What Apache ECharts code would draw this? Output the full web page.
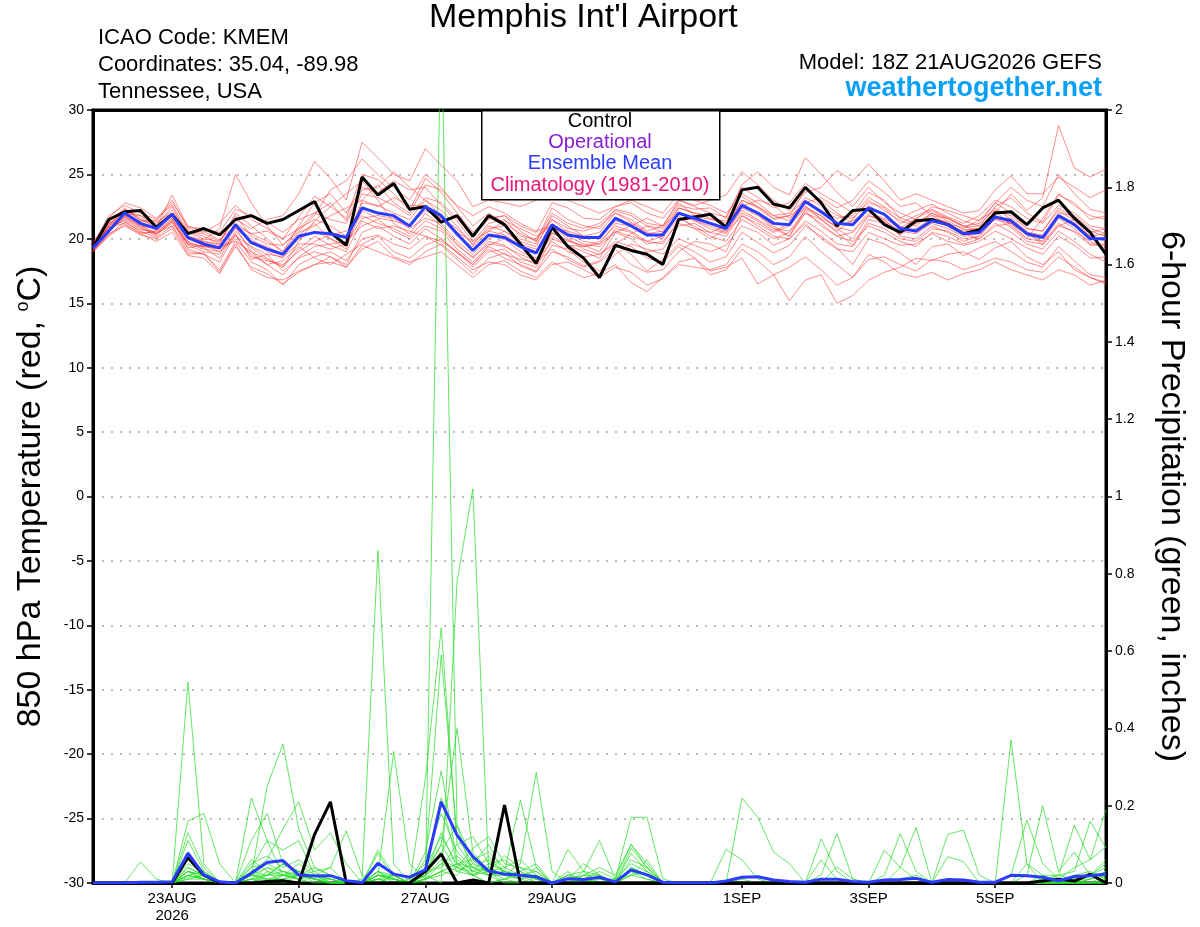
<!DOCTYPE html>
<html>
<head>
<meta charset="utf-8">
<title>Memphis Int'l Airport - GEFS</title>
<script src="https://cdn.jsdelivr.net/npm/echarts@6.0.0/dist/echarts.min.js"></script>
<style>
  html, body { margin: 0; padding: 0; background: #fff; }
  #main { width: 1200px; height: 927px; }
</style>
</head>
<body>
<div id="main"></div>
<script>
// 6-hourly steps from 18Z 21AUG2026 to 18Z 6SEP2026 (65 steps)
var times = [];
var t0 = Date.UTC(2026, 7, 21, 18);
var MON = ['JAN','FEB','MAR','APR','MAY','JUN','JUL','AUG','SEP','OCT','NOV','DEC'];
for (var k = 0; k < 65; k++) {
  var d = new Date(t0 + k * 6 * 3600 * 1000);
  times.push(('0' + d.getUTCHours()).slice(-2) + 'Z' + d.getUTCDate() + MON[d.getUTCMonth()]);
}
var tickIndex = [5, 13, 21, 29, 41, 49, 57];
var tickText = ['23AUG\n2026', '25AUG', '27AUG', '29AUG', '1SEP', '3SEP', '5SEP'];

// 850 hPa temperature, control run (black)
var controlTemp = [19.3,21.5,22.1,22.2,20.9,21.9,20.4,20.8,20.3,21.5,
  21.8,21.2,21.5,22.2,22.9,20.5,19.5,24.8,23.4,24.3,
  22.3,22.5,21.3,21.8,20.2,21.8,21.1,19.6,18.1,20.9,
  19.4,18.5,17.0,19.5,19.1,18.8,18.0,21.5,21.7,21.9,
  20.9,23.8,24.0,22.7,22.4,24.0,22.8,21.0,22.2,22.3,
  21.1,20.5,21.4,21.5,21.1,20.4,20.7,22.0,22.1,21.1,
  22.4,23.0,21.6,20.5,18.8];
// ensemble mean (blue)
var meanTemp = [19.3,20.6,22.0,21.2,20.8,21.9,20.1,19.6,19.3,21.1,
  19.7,19.2,18.8,20.2,20.5,20.4,20.1,22.4,22.0,21.8,
  21.0,22.5,21.8,20.4,19.1,20.3,20.1,19.4,18.9,21.1,
  20.3,20.1,20.1,21.6,21.0,20.3,20.3,22.0,21.6,21.2,
  20.8,22.6,22.0,21.2,21.1,22.9,22.1,21.2,21.1,22.4,
  21.9,20.8,20.6,21.4,21.1,20.4,20.5,21.7,21.4,20.4,
  20.1,21.8,21.1,20.0,20.0];
// ensemble members (red)
var tempMembers = [
  [19.6,21.8,22.6,22.0,21.5,23.0,20.8,20.5,21.2,22.6, 21.5,20.8,20.0,21.7,23.3,22.5,21.6,25.0,24.6,23.5,
   22.2,24.7,23.6,22.0,20.5,21.6,21.8,20.6,19.8,22.4, 21.5,21.0,20.8,22.3,22.0,21.2,21.0,23.0,22.5,22.0,
   21.7,24.0,23.2,22.4,22.8,24.3,23.5,22.8,22.0,23.6, 23.0,21.6,22.2,22.7,22.0,21.4,21.0,22.5,23.2,22.0,
   21.3,23.4,22.8,21.5,21.8],
  [19.0,20.3,21.3,20.6,20.1,21.0,19.0,18.8,17.6,19.8, 18.2,17.6,16.4,18.0,18.6,19.0,18.3,20.0,20.3,19.6,
   19.2,20.2,19.5,18.4,17.3,18.5,18.9,17.9,17.4,19.0, 18.6,17.9,18.3,19.6,18.8,17.5,18.4,19.6,19.0,18.2,
   18.6,20.5,19.7,18.9,19.5,21.0,20.2,19.3,18.0,20.0, 19.6,18.9,18.0,19.4,19.6,18.7,19.3,19.8,19.0,18.2,
   17.8,19.4,18.3,17.2,17.0],
  [19.4,21.0,22.3,21.6,21.0,22.5,20.2,19.9,20.8,25.0, 22.8,21.0,19.5,20.8,21.5,21.0,20.2,22.8,22.6,22.0,
   21.5,23.0,22.2,21.0,19.5,21.0,20.6,19.8,19.4,21.8, 21.0,20.2,20.5,22.0,21.3,20.5,20.0,22.4,22.0,21.6,
   21.0,22.8,21.9,20.8,20.2,22.0,21.5,20.6,21.5,23.0, 22.2,21.4,21.0,22.0,21.4,20.7,20.8,22.2,21.8,20.8,
   20.6,22.4,21.6,20.5,20.8],
  [19.2,20.8,21.5,20.7,20.6,21.6,19.8,19.3,18.5,20.6, 19.3,18.5,17.8,19.8,21.4,22.5,23.5,24.5,23.0,21.2,
   20.4,22.0,21.0,19.6,18.5,19.8,19.5,18.6,18.0,20.5, 19.8,19.5,19.0,20.8,20.5,19.6,19.8,21.2,20.8,20.5,
   20.2,22.0,21.4,20.6,21.2,22.5,21.8,20.8,20.0,21.8, 21.5,20.2,20.0,21.0,20.5,19.8,20.2,21.6,20.9,19.8,
   19.6,21.2,20.5,19.5,19.5],
  [19.8,21.2,22.0,21.8,21.3,22.0,20.5,20.0,19.8,21.5, 20.8,21.5,21.8,23.5,26.0,24.7,23.0,27.5,26.3,25.0,
   24.5,27.0,25.7,24.5,22.5,23.0,22.8,22.5,23.0,23.8, 23.0,22.5,22.0,22.5,23.0,22.5,22.0,23.5,23.0,22.6,
   22.0,23.3,22.5,21.8,21.4,23.2,22.6,21.8,21.6,22.8, 22.4,21.2,21.8,22.3,21.7,21.2,21.8,23.0,22.5,21.6,
   21.2,22.6,22.0,21.0,20.8],
  [19.1,20.5,21.8,21.0,20.3,21.4,19.5,19.0,18.8,20.9, 19.0,18.0,17.2,18.6,19.4,19.6,19.8,21.0,21.5,20.6,
   20.0,21.0,20.6,19.2,18.2,19.5,20.0,19.0,18.5,20.2, 19.5,19.0,18.5,20.5,20.0,19.0,19.2,21.0,21.2,20.5,
   21.0,23.0,22.5,21.6,21.8,22.6,21.5,20.5,19.5,21.5, 21.2,20.5,20.8,21.6,21.3,20.4,20.0,21.0,21.2,20.3,
   19.8,21.0,21.5,20.6,20.2],
  [19.3,20.6,21.6,20.8,20.4,21.2,19.6,19.2,19.0,20.3, 18.6,18.3,18.0,19.0,19.8,20.3,20.6,21.8,21.2,20.8,
   20.2,21.4,20.8,19.5,18.6,19.6,19.4,18.8,18.3,19.8, 19.0,18.6,18.8,19.8,19.4,18.5,18.2,19.4,18.5,17.5,
   17.8,18.5,16.5,17.2,15.2,16.8,17.2,15.0,15.6,16.8, 17.4,17.8,18.5,18.3,18.8,19.0,18.4,19.3,19.8,18.6,
   18.0,19.0,17.6,17.0,16.5],
  [19.5,21.3,22.4,21.4,21.2,22.2,20.6,20.4,19.8,21.8, 20.2,19.6,19.5,20.6,21.8,23.8,24.5,26.2,25.0,24.0,
   23.0,25.0,24.0,22.5,21.0,22.0,21.2,20.4,19.8,22.0, 21.2,20.8,21.2,22.2,21.8,21.0,20.8,22.6,22.3,22.4,
   21.6,24.2,25.2,24.0,23.4,26.3,25.0,23.6,22.5,24.0, 22.8,22.0,21.5,22.5,22.2,21.8,21.4,22.8,24.0,23.0,
   22.5,25.0,23.5,22.3,22.0],
  [19.2,21.0,21.9,21.2,20.8,22.0,20.2,19.8,19.5,20.8, 19.8,19.4,18.8,20.0,20.6,20.0,19.5,22.2,21.6,21.4,
   21.0,22.2,21.6,20.2,19.4,20.6,20.3,19.5,19.0,20.8, 20.6,20.2,20.0,21.4,21.2,20.4,20.6,22.4,22.0,21.8,
   21.2,23.0,22.4,21.5,21.8,23.8,23.0,22.0,21.2,22.6, 21.8,21.0,20.5,21.4,21.0,20.6,20.8,22.0,23.5,22.2,
   23.2,28.8,25.5,24.8,25.4],
  [19.0,20.4,21.0,20.3,20.0,20.8,18.8,18.9,17.4,19.6, 17.6,17.0,16.8,17.5,18.0,18.2,17.8,19.2,19.8,18.6,
   18.2,18.6,19.0,18.0,17.0,18.0,18.3,17.5,17.0,18.2, 17.6,17.0,17.3,18.0,16.6,15.9,17.0,18.2,18.5,17.2,
   17.6,19.2,18.3,17.2,17.8,18.6,17.6,16.4,17.0,18.8, 18.2,17.3,17.0,17.4,16.8,17.3,17.6,18.2,17.6,17.2,
   16.8,17.6,17.2,16.4,16.8],
  [19.4,21.4,22.2,21.5,20.9,23.4,20.9,20.8,20.5,22.3, 21.8,21.3,20.5,21.5,22.0,21.5,21.2,23.5,23.2,22.6,
   21.8,23.2,22.8,21.6,20.2,21.5,21.8,21.0,20.5,22.8, 22.4,21.6,21.5,22.5,22.8,22.0,21.6,23.0,22.6,23.0,
   23.4,25.2,24.2,23.0,22.2,23.6,24.0,25.3,24.5,25.8, 24.5,23.0,23.5,23.0,22.5,22.0,22.2,23.8,24.9,23.5,
   23.5,24.8,24.0,23.2,23.8],
  [19.3,20.9,21.4,20.5,20.5,21.0,19.3,19.5,19.0,20.0, 18.8,18.0,18.3,19.4,18.5,18.0,18.8,19.6,20.2,19.0,
   18.5,19.5,20.0,18.9,18.0,19.2,18.5,18.0,17.5,19.5, 19.2,18.2,17.5,18.8,19.6,19.2,18.8,20.0,19.5,19.0,
   19.5,21.0,20.5,19.5,20.0,21.2,20.0,19.2,19.0,20.5, 20.0,19.5,19.6,20.4,19.8,19.5,19.8,20.6,20.0,19.3,
   18.8,20.2,19.5,18.5,18.6],
  [19.6,21.6,22.8,22.4,21.6,22.6,20.6,20.2,19.6,22.0, 21.0,20.0,19.0,21.0,22.8,23.5,22.0,24.0,23.6,24.5,
   23.8,24.0,22.6,21.4,19.8,21.2,21.5,20.2,20.0,21.5, 20.5,19.8,19.6,20.6,20.2,19.8,19.6,21.5,21.8,21.2,
   20.6,22.2,21.5,20.8,20.6,22.2,21.0,20.2,20.5,21.8, 21.3,20.3,21.2,21.8,21.6,20.9,21.0,22.4,21.5,20.5,
   20.3,21.8,21.2,20.2,20.4],
  [19.1,20.7,21.7,20.9,20.2,21.5,19.2,18.8,18.2,20.4, 18.4,18.8,17.5,18.5,19.0,18.6,18.0,20.5,21.0,20.2,
   19.6,20.8,20.0,19.0,17.8,19.0,19.2,18.2,17.8,20.0, 19.5,19.4,19.8,21.0,20.6,19.8,20.2,21.6,21.0,20.2,
   19.8,21.5,20.8,20.0,20.5,22.0,21.2,20.2,19.8,21.0, 20.5,19.8,19.4,20.5,20.2,19.6,20.0,21.2,20.5,19.6,
   19.2,20.6,19.8,18.8,18.2],
  [19.5,21.1,22.1,21.8,21.0,21.8,20.0,19.5,19.2,21.2, 20.4,19.8,19.0,20.5,21.0,21.8,22.4,23.0,22.5,23.2,
   22.6,22.6,21.6,20.8,19.6,20.8,21.0,20.0,19.6,21.5, 20.8,20.6,21.0,22.0,21.5,20.6,21.0,22.8,21.8,21.5,
   21.4,23.5,22.8,21.8,22.0,23.0,22.2,21.6,21.8,23.2, 22.5,21.6,21.2,22.0,21.6,21.0,21.2,22.8,22.0,20.8,
   20.6,22.2,21.4,20.2,19.8],
  [19.2,20.9,21.2,20.4,20.6,21.3,19.7,19.4,19.4,19.8, 19.0,18.4,17.8,19.2,20.2,19.5,19.0,21.4,20.8,21.0,
   20.6,20.2,19.8,19.0,18.0,19.4,18.8,18.4,18.2,19.2, 18.4,17.8,18.2,19.2,18.0,17.4,17.6,19.0,19.8,19.6,
   19.0,21.8,21.0,20.2,20.0,21.4,20.6,19.6,19.4,21.2, 20.8,20.0,19.8,20.8,20.6,20.0,20.2,21.6,21.6,20.6,
   19.5,21.0,20.6,19.8,19.2],
  [19.4,21.2,21.8,21.4,21.4,22.8,21.0,20.6,19.9,21.0, 20.0,19.0,18.5,20.3,21.2,20.0,19.2,23.0,24.2,22.8,
   22.0,24.2,23.8,22.6,21.8,22.5,22.0,21.2,20.6,21.0, 20.0,19.2,18.8,19.6,20.4,21.0,20.5,21.8,20.8,20.0,
   20.8,22.5,23.0,22.6,21.6,22.8,23.2,22.4,23.0,24.5, 23.6,22.5,22.8,21.8,21.2,20.8,21.5,22.2,21.0,20.0,
   21.6,23.5,22.6,21.8,21.5],
  [19.0,20.2,21.1,20.4,19.8,20.5,18.7,18.5,17.3,19.4, 17.8,17.3,16.5,17.4,18.0,18.6,17.8,19.5,19.0,18.5,
   18.0,19.0,19.6,18.6,17.6,18.2,18.0,17.2,16.8,18.0, 18.2,17.6,17.0,17.8,17.4,16.4,16.9,18.0,17.8,17.6,
   18.0,19.6,19.0,18.0,18.6,20.2,19.0,18.0,17.0,18.4, 18.6,18.0,17.5,18.4,18.2,17.6,18.0,18.5,18.2,17.6,
   17.4,18.6,17.8,17.0,16.6],
  [19.3,21.0,21.7,21.0,20.8,21.8,20.0,19.8,19.6,21.0, 20.4,20.6,20.0,20.8,22.0,22.8,21.4,23.8,24.0,25.2,
   24.0,23.0,21.8,20.5,19.8,20.6,21.4,20.8,20.2,21.0, 20.2,19.6,19.4,20.5,21.0,21.6,21.0,22.0,21.4,21.0,
   20.5,21.8,21.2,20.5,21.0,22.4,21.8,20.9,20.6,22.0, 21.6,20.8,21.6,22.2,21.6,21.0,20.6,21.5,21.2,20.4,
   20.2,22.0,21.8,20.8,20.4],
  [19.2,20.6,21.9,21.1,20.4,21.6,19.6,19.4,19.2,20.2, 19.4,18.8,18.6,19.6,19.6,19.2,19.6,21.6,21.8,21.6,
   20.8,21.6,21.2,19.8,18.8,20.0,20.6,19.6,19.2,20.4, 19.9,19.4,19.6,21.2,21.0,20.2,20.4,22.0,21.4,20.8,
   20.4,22.4,21.8,21.0,20.2,22.3,21.6,21.0,21.4,22.2, 21.4,20.6,20.4,21.2,20.8,20.2,20.4,21.8,21.2,20.0,
   19.8,21.6,20.8,19.6,19.6]
];

// 6-hour precipitation (inches), control (black) and ensemble mean (blue)
var controlPrecip = [0,0,0,0,0,0,0.066,0.02,0,0,0,0.004,0.006,
  0,0.126,0.21,0,0,0,0,0,0.03,0.075,0,0.008,0,
  0.202,0,0,0,0,0,0,0,0,0,0,0,0,
  0,0,0,0,0,0,0,0,0,0,0,0,0,
  0,0,0,0,0,0,0,0,0.005,0.01,0.005,0.023,0];
var meanPrecip = [0,0,0,0.002,0.002,0.003,0.077,0.021,0.003,0,0.025,0.053,0.058,
  0.021,0.018,0.019,0.006,0.001,0.051,0.023,0.015,0.034,0.21,0.124,0.068,0.031,
  0.023,0.02,0.016,0,0.011,0.009,0.015,0.003,0.034,0.021,0.002,0,0,
  0,0.005,0.015,0.016,0.008,0.004,0.002,0.01,0.01,0.004,0.002,0.008,0.009,
  0.012,0.002,0.009,0.008,0.002,0.002,0.02,0.019,0.015,0.006,0.017,0.019,0.023];
// ensemble members (green)
var precipMembers = [
  [0,0,0,0,0,0,0.13,0.04,0,0,0,0.02,0.05, 0.03,0,0,0,0,0.02,0.01,0,0,2.25,0.15,0.02,0,
   0.01,0.03,0,0,0,0.01,0,0,0.02,0.01,0,0,0, 0,0,0,0,0,0,0,0,0,0,0,0,0.01, 0.02,0,0,0,0,0,0,0,0.01,0,0,0.02,0.04],
  [0,0,0,0,0,0,0.52,0.05,0,0,0,0,0, 0,0.02,0.04,0,0,0,0,0,0.02,0,0.78,1.02,0.03,
   0,0,0,0,0,0,0,0,0,0,0,0,0, 0,0,0,0,0,0,0,0,0,0,0,0,0, 0,0,0,0,0,0,0.37,0.05,0,0,0,0,0],
  [0,0,0,0,0,0,0.08,0.02,0,0,0.04,0.11,0.02, 0.05,0.02,0,0,0.01,0.86,0.05,0,0.27,0.66,0.1,0.04,0.02,
   0,0,0,0,0,0,0,0,0,0,0,0,0, 0,0,0.22,0.17,0.08,0.05,0,0,0,0,0,0,0, 0,0,0,0,0,0,0,0,0,0,0,0,0],
  [0,0,0,0,0,0,0.16,0.18,0.05,0,0.06,0.03,0, 0.02,0.04,0.02,0,0,0.03,0,0.01,0.05,0.59,0.12,0.05,0.03,
   0.04,0.06,0.02,0,0,0,0,0,0,0,0,0,0, 0,0,0,0,0,0,0,0.114,0.03,0,0,0,0, 0,0,0,0,0,0,0,0,0,0,0,0,0.02],
  [0,0,0,0.055,0.01,0,0.04,0.02,0,0,0.11,0.18,0.05, 0.02,0.01,0,0,0,0,0.02,0,0.08,0.29,0.06,0.03,0.02,
   0.02,0.01,0.04,0,0,0.03,0.02,0,0,0,0,0,0, 0,0,0,0,0,0,0,0.02,0.128,0.01,0,0,0, 0,0,0,0,0,0,0,0,0,0,0,0,0],
  [0,0,0,0,0,0,0.11,0.03,0,0,0.02,0.25,0.36, 0.14,0.04,0.02,0,0,0.01,0,0,0.04,0.12,0.05,0.02,0,
   0.01,0,0,0,0,0,0,0,0.03,0.01,0,0,0, 0,0,0,0,0,0,0,0.06,0.01,0,0,0,0, 0,0,0,0,0,0,0,0,0,0,0,0.02,0.06],
  [0,0,0,0,0,0,0.06,0.02,0,0,0.22,0.11,0.085, 0.11,0.02,0,0,0,0.02,0.01,0,0.03,0.1,0.4,0.08,0.03,
   0.02,0.02,0,0,0.02,0,0,0,0,0,0,0,0, 0,0,0,0,0,0,0,0,0.042,0.01,0,0,0, 0,0,0,0,0,0,0,0,0,0,0,0,0],
  [0,0,0,0,0,0,0.03,0.01,0,0,0.03,0.06,0.14, 0.21,0.085,0.13,0.05,0,0,0,0,0.02,0.06,0.04,0.02,0.05,
   0.03,0.215,0.04,0,0,0,0,0,0,0,0,0,0, 0,0,0,0,0,0,0,0,0,0,0,0.085,0.04, 0.01,0,0,0,0,0,0,0,0,0,0,0,0],
  [0,0,0,0,0,0,0.02,0.01,0,0,0.01,0.04,0.03, 0.02,0.03,0.04,0.135,0.02,0,0,0,0.01,0.05,0.07,0.03,0.04,
   0.02,0.05,0.286,0.03,0,0,0,0,0.04,0.02,0,0,0, 0,0,0,0,0,0,0,0,0,0,0,0.02,0.128, 0.03,0,0,0,0,0,0,0,0,0,0,0.01,0.03],
  [0,0,0,0,0,0,0.02,0.03,0,0,0.02,0.02,0.05, 0.03,0.01,0,0,0,0.085,0.02,0,0.02,0.08,0.15,0.06,0.08,
   0.04,0.02,0.02,0,0.087,0.03,0,0,0.09,0.04,0,0,0, 0,0,0,0,0,0,0,0,0,0,0,0,0.04, 0.144,0,0,0,0,0,0,0,0,0,0,0,0.01],
  [0,0,0,0,0,0,0.01,0.02,0,0,0,0.03,0.02, 0.01,0.02,0.01,0,0,0.077,0.01,0,0.03,0.04,0.1,0.12,0.05,
   0.06,0.03,0.01,0,0.02,0.03,0.11,0.01,0.1,0.05,0,0,0, 0,0,0,0,0,0,0,0,0,0,0,0,0, 0,0,0.126,0.137,0.02,0,0,0,0,0,0,0,0],
  [0,0,0,0,0,0,0.03,0.01,0,0,0.05,0.07,0.04, 0.06,0.03,0,0,0,0.02,0.34,0.05,0.01,0.03,0.05,0.02,0.03,
   0.07,0.04,0.03,0,0.01,0.05,0.02,0,0.077,0.03,0,0,0, 0,0,0,0,0,0,0,0,0,0,0,0,0, 0,0,0.068,0.055,0,0,0,0,0,0,0,0,0],
  [0,0,0,0,0,0,0.02,0.01,0,0,0.02,0.01,0.01, 0.02,0.01,0,0,0,0.01,0,0,0.01,0.03,0.02,0.07,0.02,
   0.03,0.02,0.01,0,0,0,0,0.01,0.17,0.17,0.01,0,0, 0,0.087,0.06,0.01,0,0,0,0,0,0,0,0,0, 0,0,0,0,0,0,0.02,0.163,0.05,0.01,0.04,0.06,0.094],
  [0,0,0,0,0,0,0.04,0.02,0,0,0.01,0.02,0.03, 0.01,0,0,0,0,0.02,0.01,0,0.02,0.05,0.03,0.05,0.1,
   0.02,0.01,0,0,0,0.02,0.04,0.02,0.1,0.04,0,0,0, 0,0,0.01,0,0,0,0,0,0,0,0,0,0, 0,0,0,0,0,0,0,0.02,0.2,0.03,0.08,0.02,0],
  [0,0,0,0,0,0,0.05,0.03,0,0,0.01,0,0.02, 0.01,0.02,0.01,0,0,0.03,0.02,0,0.01,0.03,0.05,0.04,0.06,
   0.03,0.02,0.02,0,0.03,0,0.01,0.01,0.02,0.06,0,0,0, 0,0,0,0,0,0,0,0,0,0,0,0,0, 0,0,0,0,0,0,0,0,0.01,0.02,0.15,0.06,0.19],
  [0,0,0,0,0,0,0.03,0.02,0,0,0.02,0.01,0.01, 0.02,0.01,0,0,0,0.01,0.01,0,0.01,0.02,0.04,0.09,0.12,
   0.05,0.04,0.01,0,0,0.01,0,0,0.04,0.02,0,0,0, 0,0,0,0,0,0,0,0,0,0,0,0,0, 0,0,0,0,0,0,0,0.05,0.02,0.02,0.03,0.16,0.09],
  [0,0,0,0,0,0,0.02,0.01,0,0,0.03,0.02,0.02, 0.01,0.02,0.02,0,0,0.02,0.02,0,0.02,0.1,0.03,0.02,0.04,
   0.02,0.03,0.05,0,0,0.01,0,0,0.02,0.03,0,0,0, 0,0,0,0,0,0,0,0,0,0,0,0,0, 0,0,0,0,0,0,0,0,0,0.02,0.01,0.01,0.02],
  [0,0,0,0,0,0,0.015,0.02,0,0,0.02,0.04,0.02, 0.02,0.01,0.01,0,0,0.03,0.01,0,0.06,0.18,0.08,0.04,0.03,
   0.01,0.02,0.03,0,0.01,0.02,0.01,0,0.03,0.02,0,0,0, 0,0,0,0,0,0,0,0,0,0,0,0,0, 0,0,0,0,0,0,0,0,0,0,0.02,0.03,0.01],
  [0,0,0,0,0,0,0.03,0.02,0,0,0.01,0.01,0.02, 0.03,0.01,0,0,0,0.02,0.01,0,0.04,0.22,0.05,0.06,0.02,
   0.03,0.01,0.02,0,0.02,0.01,0.03,0.01,0.05,0.03,0,0,0, 0,0,0,0,0,0,0,0,0,0,0,0,0, 0,0,0,0,0,0,0,0,0.02,0,0.01,0.02,0.05],
  [0,0,0,0,0,0,0.01,0.01,0,0,0.04,0.05,0.03, 0.02,0.02,0.01,0,0,0.01,0.02,0,0.02,0.13,0.04,0.03,0.07,
   0.02,0.02,0.01,0,0,0.02,0.02,0,0.06,0.04,0,0,0, 0,0,0,0,0,0,0,0,0,0,0,0,0, 0,0,0,0,0,0,0,0,0,0,0,0.01,0.03]
];

var FONT = '"Liberation Sans", Arial, Helvetica, sans-serif';

function isTick(index) {
  return tickIndex.indexOf(index) >= 0;
}

function memberSeries(data, color, axisIdx) {
  return {
    type: 'line',
    yAxisIndex: axisIdx,
    data: data,
    symbol: 'none',
    silent: true,
    z: 2,
    lineStyle: { color: color, width: 0.8 }
  };
}

function initChart() {
  var dom = document.getElementById('main');
  var myChart = echarts.init(dom, null, { renderer: 'canvas' });

  var series = [];
  precipMembers.forEach(function (m) { series.push(memberSeries(m, 'rgba(40,220,40,0.9)', 1)); });
  tempMembers.forEach(function (m) { series.push(memberSeries(m, 'rgba(255,50,50,0.7)', 0)); });
  series.push({ name: 'Control', type: 'line', yAxisIndex: 1, data: controlPrecip, symbol: 'none', z: 5,
    lineStyle: { color: '#000', width: 3 } });
  series.push({ name: 'Ensemble Mean', type: 'line', yAxisIndex: 1, data: meanPrecip, symbol: 'none', z: 6,
    lineStyle: { color: '#2a3cff', width: 3 } });
  series.push({ name: 'Control', type: 'line', yAxisIndex: 0, data: controlTemp, symbol: 'none', z: 5,
    lineStyle: { color: '#000', width: 3 } });
  series.push({ name: 'Ensemble Mean', type: 'line', yAxisIndex: 0, data: meanTemp, symbol: 'none', z: 6,
    lineStyle: { color: '#2a3cff', width: 3 } });

  var option = {
    backgroundColor: '#fff',
    animation: false,
    textStyle: { fontFamily: FONT },
    title: [
      { text: "Memphis Int'l Airport", left: 429, top: 1, padding: 0,
        textStyle: { fontSize: 34, fontWeight: 'normal', color: '#000', fontFamily: FONT } },
      { text: 'ICAO Code: KMEM', left: 98, top: 27, padding: 0,
        textStyle: { fontSize: 22, fontWeight: 'normal', color: '#000', fontFamily: FONT } },
      { text: 'Coordinates: 35.04, -89.98', left: 98, top: 54, padding: 0,
        textStyle: { fontSize: 22, fontWeight: 'normal', color: '#000', fontFamily: FONT } },
      { text: 'Tennessee, USA', left: 98, top: 81, padding: 0,
        textStyle: { fontSize: 22, fontWeight: 'normal', color: '#000', fontFamily: FONT } },
      { text: 'Model: 18Z 21AUG2026 GEFS', right: 98, top: 52, padding: 0,
        textStyle: { fontSize: 22, fontWeight: 'normal', color: '#000', fontFamily: FONT } },
      { text: 'weathertogether.net', right: 98, top: 75, padding: 0,
        textStyle: { fontSize: 27, fontWeight: 'bold', color: '#0aa0f5', fontFamily: FONT } }
    ],
    grid: {
      left: 93, right: 94, top: 110, bottom: 44,
      containLabel: false, outerBoundsMode: 'none',
      show: true, borderColor: '#000', borderWidth: 3
    },
    xAxis: [
      {
        type: 'category',
        data: times,
        boundaryGap: false,
        position: 'bottom',
        axisLine: { onZero: false, lineStyle: { color: '#000', width: 3 } },
        axisTick: { interval: function (i) { return isTick(i); }, length: 5, lineStyle: { color: '#000', width: 1.5 } },
        axisLabel: {
          interval: function (i) { return isTick(i); },
          formatter: function (v, i) { var p = tickIndex.indexOf(i); return p >= 0 ? tickText[p] : ''; },
          color: '#000', fontSize: 15, fontFamily: FONT, margin: 7, lineHeight: 17
        },
        splitLine: { show: false }
      },
      {
        type: 'category',
        data: times,
        boundaryGap: false,
        position: 'top',
        axisLine: { onZero: false, lineStyle: { color: '#000', width: 3 } },
        axisTick: { show: false },
        axisLabel: { show: false },
        splitLine: { show: false }
      }
    ],
    yAxis: [
      {
        type: 'value', min: -30, max: 30, interval: 5, position: 'left',
        name: '850 hPa Temperature (red, {sup|o}C)',
        nameLocation: 'middle', nameGap: 45, nameRotate: 90,
        nameTextStyle: { fontSize: 34, color: '#000', fontFamily: FONT,
          rich: { sup: { fontSize: 18, verticalAlign: 'top', padding: [0, 0, 14, 0], color: '#000', fontFamily: FONT } } },
        axisLine: { show: true, onZero: false, lineStyle: { color: '#000', width: 3 } },
        axisTick: { show: true, length: 6, lineStyle: { color: '#000', width: 1.5 } },
        axisLabel: { color: '#000', fontSize: 14, fontFamily: FONT, margin: 9 },
        splitLine: { show: true, lineStyle: { color: '#a8a8a8', width: 1.5, type: [2, 7] } }
      },
      {
        type: 'value', min: 0, max: 2, interval: 0.2, position: 'right',
        name: '6-hour Precipitation (green, inches)',
        nameLocation: 'middle', nameGap: 48, nameRotate: -90,
        nameTextStyle: { fontSize: 34, color: '#000', fontFamily: FONT },
        axisLine: { show: true, onZero: false, lineStyle: { color: '#000', width: 3 } },
        axisTick: { show: true, length: 6, lineStyle: { color: '#000', width: 1.5 } },
        axisLabel: { color: '#000', fontSize: 14, fontFamily: FONT, margin: 9,
          formatter: function (v) { return String(Math.round(v * 10) / 10); } },
        splitLine: { show: false }
      }
    ],
    graphic: [
      { type: 'rect', left: 481, top: 110, z: 100,
        shape: { width: 238, height: 89 },
        style: { fill: '#fff', stroke: '#000', lineWidth: 1.5 } },
      { type: 'text', x: 600, y: 121, z: 101,
        style: { text: 'Control', fill: '#000', font: '20px ' + FONT, textAlign: 'center', textVerticalAlign: 'middle' } },
      { type: 'text', x: 600, y: 142, z: 101,
        style: { text: 'Operational', fill: '#8a1fd6', font: '20px ' + FONT, textAlign: 'center', textVerticalAlign: 'middle' } },
      { type: 'text', x: 600, y: 163, z: 101,
        style: { text: 'Ensemble Mean', fill: '#2a3cff', font: '20px ' + FONT, textAlign: 'center', textVerticalAlign: 'middle' } },
      { type: 'text', x: 600, y: 185, z: 101,
        style: { text: 'Climatology (1981-2010)', fill: '#e8157a', font: '20px ' + FONT, textAlign: 'center', textVerticalAlign: 'middle' } }
    ],
    series: series
  };

  if (option && typeof option === 'object') {
    myChart.setOption(option, true);
  }
}

initChart();
</script>
</body>
</html>
